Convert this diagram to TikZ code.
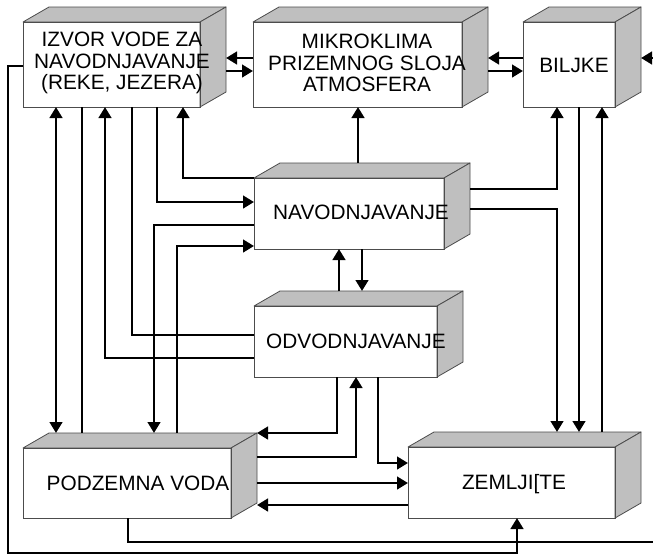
\documentclass[tikz,border=0pt]{standalone}
\usepackage{fontspec}
\setmainfont{Liberation Sans}
\usetikzlibrary{arrows.meta,calc}
\begin{document}
\begin{tikzpicture}[x=1pt,y=-1pt,
  front/.style={draw=black!70,fill=white,line width=0.8pt,inner sep=0pt,outer sep=0pt,rectangle},
  face/.style={draw=black!70,fill=gray!50,line width=0.8pt,line join=round},
  lbl/.style={align=center,inner sep=0pt,font=\fontsize{20.8}{21.7}\selectfont},
  conn/.style={line width=2.9pt,black},
  >={Triangle[width=12.5pt,length=11pt]}]
\useasboundingbox[fill=white] (0,0) rectangle (653,555);
% #1 name, #2 left, #3 top, #4 width, #5 height
\newcommand\cubebox[5]{%
  \node[front,minimum width=#4pt,minimum height=#5pt,anchor=north west] (#1) at (#2,#3) {};
  \coordinate (#1-b) at ($(#1.north east)+(26,-15)$);
  \coordinate (#1-c) at ($(#1.south east)+(26,-15)$);
  \draw[face] (#1.north west) -- ++(26,-15) -- (#1-b) -- (#1.north east) -- cycle;
  \draw[face] (#1.north east) -- (#1-b) -- (#1-c) -- (#1.south east) -- cycle;
  \draw[front,fill=none] (#1.north west) rectangle (#1.south east);
}
\cubebox{izvor}{23}{22}{177}{85}
\cubebox{mikro}{253}{22}{209}{85}
\cubebox{biljke}{523}{22}{92}{85}
\cubebox{navod}{254}{178}{190}{71}
\cubebox{odvod}{254}{306}{183}{71}
\cubebox{podz}{23}{448}{208}{70}
\cubebox{zemlj}{408}{447}{207}{71}
% labels
\node[lbl] (izvor-t) at (122,63) {IZVOR VODE ZA\\NAVODNJAVANJE\\(REKE, JEZERA)};
\node[lbl] (mikro-t) at (367,63) {MIKROKLIMA\\PRIZEMNOG SLOJA\\ATMOSFERA};
\node[lbl] (biljke-t) at (574,65) {BILJKE};
\node[lbl] (navod-t) at (361,212) {NAVODNJAVANJE};
\node[lbl] (odvod-t) at (356,341) {ODVODNJAVANJE};
\node[lbl] (podz-t) at (138,483) {PODZEMNA VODA};
\node[lbl] (zemlj-t) at (514,484) {ZEMLJI[TE};
% top row
\draw[conn,->] (mikro.west |- 0,58) -- (izvor-b |- 0,58);
\draw[conn,->] (izvor-b |- 0,71) -- (mikro.west |- 0,71);
\draw[conn,->] (biljke.west |- 0,58) -- (mikro-b |- 0,58);
\draw[conn,->] (mikro-b |- 0,71) -- (biljke.west |- 0,71);
% outer loops
\draw[conn,->] (128,0 |- podz.south) -- (128,542) -- (658,542) -- (658,58) -- (biljke-b |- 0,58);
\draw[conn,->] (izvor.west |- 0,66) -- (8,66) -- (8,553) -- (517,553) -- (517,0 |- zemlj.south);
% izvor bottom
\draw[conn,<->] (56,0 |- izvor.south) -- (56,0 |- podz-b);
\draw[conn] (82,0 |- izvor.south) -- (82,0 |- podz-b);
\draw[conn,->] (odvod.west |- 0,358) -- (105,358) -- (105,0 |- izvor.south);
\draw[conn] (132,0 |- izvor.south) -- (132,335) -- (odvod.west |- 0,335);
\draw[conn,->] (157,0 |- izvor.south) -- (157,202) -- (navod.west |- 0,202);
\draw[conn,->] (navod.west |- 0,178) -- (183,178) -- (183,0 |- izvor.south);
\draw[conn,->] (navod.west |- 0,225) -- (154,225) -- (154,0 |- podz-b);
\draw[conn,->] (177,0 |- podz-b) -- (177,246) -- (navod.west |- 0,246);
% navod
\draw[conn,->] (358,0 |- navod-b) -- (358,0 |- mikro.south);
\draw[conn,->] (navod-b |- 0,189) -- (557,189) -- (557,0 |- biljke.south);
\draw[conn,->] (navod-b |- 0,209) -- (557,209) -- (557,0 |- zemlj-b);
\draw[conn,->] (579,0 |- biljke.south) -- (579,0 |- zemlj-b);
\draw[conn,->] (602,0 |- zemlj-b) -- (602,0 |- biljke.south);
\draw[conn,->] (339,0 |- odvod-b) -- (339,0 |- navod.south);
\draw[conn,->] (362,0 |- navod.south) -- (362,0 |- odvod-b);
% odvod bottom
\draw[conn,->] (337,0 |- odvod.south) -- (337,433) -- (podz-b |- 0,433);
\draw[conn,->] (podz-b |- 0,457) -- (356,457) -- (356,0 |- odvod.south);
\draw[conn,->] (378,0 |- odvod.south) -- (378,463) -- (zemlj.west |- 0,463);
\draw[conn,->] (podz-b |- 0,483) -- (zemlj.west |- 0,483);
\draw[conn,->] (zemlj.west |- 0,505) -- (podz-b |- 0,505);
\end{tikzpicture}
\end{document}
